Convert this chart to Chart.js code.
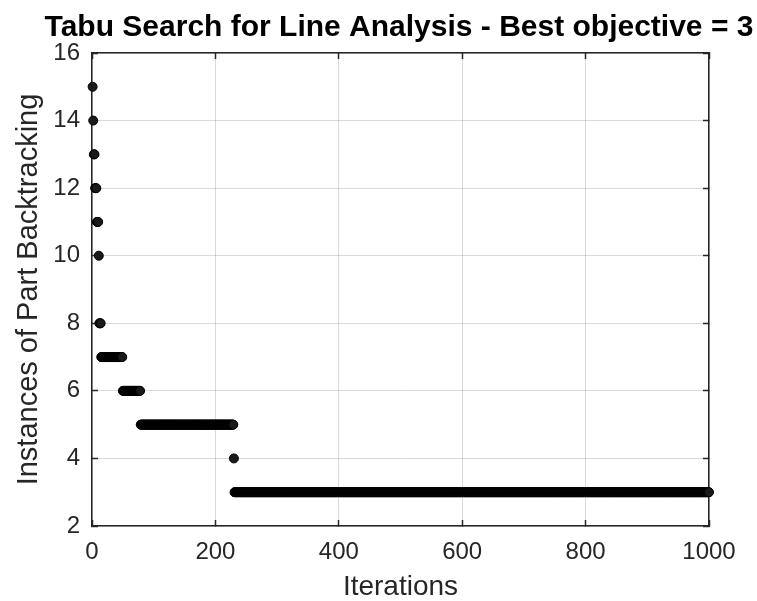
<!DOCTYPE html>
<html>
<head>
<meta charset="utf-8">
<script src="https://cdn.jsdelivr.net/npm/chart.js@4/dist/chart.umd.min.js"></script>
<style>
  html, body { margin: 0; padding: 0; background: #ffffff; }
  #wrap { width: 757px; height: 601px; }
</style>
</head>
<body>
<div id="wrap"><canvas id="chart" width="757" height="601"></canvas></div>
<script>
// Objective value of the current solution, stored as runs of equal values
const runValues  = [15, 14, 13, 12, 11, 10, 8,  7,  6,   5, 4,   3];
const runLengths = [ 1,  1,  2,  3,  3,  1, 3, 35, 29, 151, 1, 770];

const xTicks = [0, 200, 400, 600, 800, 1000];
const yTicks = [2, 4, 6, 8, 10, 12, 14, 16];

const titleText = 'Tabu Search for Line Analysis - Best objective = 3';
const xLabel = 'Iterations';
const yLabel = 'Instances of Part Backtracking';

// expand runs into one point per iteration
const points = [];
let iter = 1;
runValues.forEach((v, i) => {
  for (let k = 0; k < runLengths[i]; k++) {
    points.push({ x: iter, y: v });
    iter++;
  }
});

const FONT = '"Liberation Sans", Arial, Helvetica, sans-serif';
const AXIS_COLOR = '#262626';
const GRID_COLOR = 'rgba(0,0,0,0.15)';

// left margin of the layout; the y axis fills the rest up to the plot edge
const PAD_LEFT = 41;
const PLOT_LEFT = 92;

const fixedTicks = (vals) => (scale) => { scale.ticks = vals.map(v => ({ value: v })); };
const plainLabel = (v) => String(v);

new Chart(document.getElementById('chart'), {
  type: 'scatter',
  data: {
    datasets: [{
      data: points,
      showLine: false,
      clip: false,
      pointRadius: 4.5,
      pointHoverRadius: 4.5,
      pointBackgroundColor: '#1a1a1a',
      pointBorderColor: '#000000',
      pointBorderWidth: 1
    }]
  },
  options: {
    responsive: false,
    animation: false,
    events: [],
    layout: { padding: { left: PAD_LEFT, right: 0, top: 0, bottom: 0 } },
    plugins: {
      legend: { display: false },
      tooltip: { enabled: false },
      title: {
        display: true,
        text: titleText,
        color: '#000000',
        font: { family: FONT, size: 30, weight: 'bold', lineHeight: 1.2 },
        padding: { top: 10, bottom: 7 }
      }
    },
    scales: {
      x: {
        type: 'linear',
        position: 'bottom',
        min: 0, max: 1000,
        afterBuildTicks: fixedTicks(xTicks),
        afterFit: (s) => { s.height = 75; },
        grid: { color: GRID_COLOR, lineWidth: 1, tickLength: -6, tickColor: AXIS_COLOR, tickWidth: 1.5 },
        border: { display: true, color: AXIS_COLOR, width: 1.5 },
        ticks: { color: AXIS_COLOR, padding: 18, maxRotation: 0, callback: plainLabel,
                 font: { family: FONT, size: 24 } },
        title: { display: true, text: xLabel, color: AXIS_COLOR, padding: { top: 0, bottom: 0 },
                 font: { family: FONT, size: 28, lineHeight: 1.0 } }
      },
      y: {
        type: 'linear',
        position: 'left',
        min: 2, max: 16,
        afterBuildTicks: fixedTicks(yTicks),
        afterFit: (s) => { s.width = PLOT_LEFT - PAD_LEFT; },
        grid: { color: GRID_COLOR, lineWidth: 1, tickLength: -6, tickColor: AXIS_COLOR, tickWidth: 1.5 },
        border: { display: true, color: AXIS_COLOR, width: 1.5 },
        ticks: { color: AXIS_COLOR, padding: 18, callback: plainLabel, font: { family: FONT, size: 24 } },
        title: { display: true, text: yLabel, color: AXIS_COLOR,
                 padding: { top: 12 - PAD_LEFT, bottom: 0 },
                 font: { family: FONT, size: 29, lineHeight: 1.2 } }
      },
      xTop: {
        type: 'linear',
        position: 'top',
        min: 0, max: 1000,
        afterBuildTicks: fixedTicks(xTicks),
        afterFit: (s) => { s.height = 0; },
        grid: { drawOnChartArea: false, tickLength: -6, tickColor: AXIS_COLOR, tickWidth: 1.5 },
        border: { display: true, color: AXIS_COLOR, width: 1.5 },
        ticks: { display: false }
      },
      yRight: {
        type: 'linear',
        position: 'right',
        min: 2, max: 16,
        afterBuildTicks: fixedTicks(yTicks),
        afterFit: (s) => { s.width = 48; },
        grid: { drawOnChartArea: false, tickLength: -6, tickColor: AXIS_COLOR, tickWidth: 1.5 },
        border: { display: true, color: AXIS_COLOR, width: 1.5 },
        ticks: { display: false }
      }
    }
  }
});
</script>
</body>
</html>
